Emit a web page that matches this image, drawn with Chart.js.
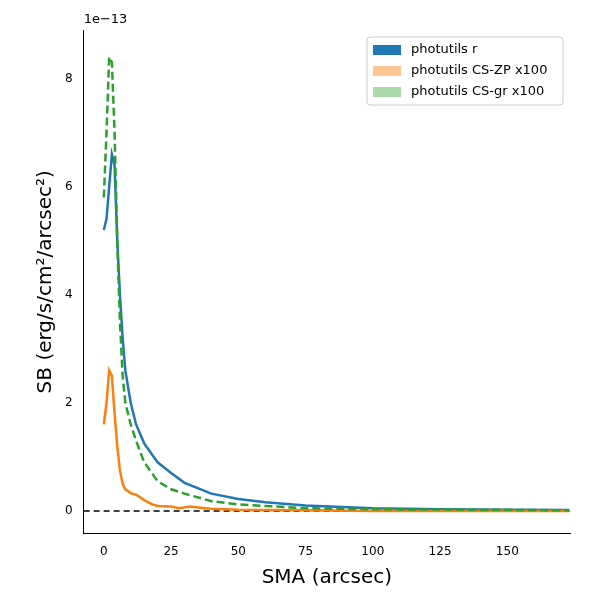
<!DOCTYPE html>
<html>
<head>
<meta charset="utf-8">
<script src="https://cdn.jsdelivr.net/npm/chart.js@4"></script>
<style>
  body { margin: 0; background: #fff; }
</style>
</head>
<body>
<canvas id="c" width="600" height="600"></canvas>
<script>
// values in units of 1e-13
const sma_r = [0, 1, 2, 3, 4, 5, 6, 7, 8, 10, 12, 15, 20, 25, 30, 40, 50, 60, 75, 100, 125, 150, 173];
const sb_r = [5.2, 5.4, 6.0, 6.6, 6.4, 5.0, 4.0, 3.2, 2.6, 2.0, 1.6, 1.25, 0.9, 0.7, 0.52, 0.32, 0.22, 0.16, 0.1, 0.05, 0.03, 0.02, 0.015];
const sma_gr = [0, 1, 2, 3, 4, 5, 6, 7, 8, 10, 12, 15, 20, 25, 30, 40, 50, 75, 100, 150, 173];
const sb_gr = [5.8, 7.0, 8.4, 8.3, 7.0, 5.0, 3.5, 2.5, 2.0, 1.6, 1.3, 0.9, 0.55, 0.4, 0.32, 0.18, 0.12, 0.05, 0.03, 0.02, 0.01];
const sma_zp = [0, 1, 2, 3, 4, 5, 6, 7, 8, 10, 12, 15, 18, 20, 25, 28, 32, 36, 40, 50, 75, 100, 173];
const sb_zp = [1.6, 2.0, 2.6, 2.5, 1.8, 1.2, 0.75, 0.5, 0.4, 0.33, 0.3, 0.2, 0.12, 0.09, 0.08, 0.05, 0.08, 0.06, 0.04, 0.02, 0.01, 0, 0];
const xTicks = [0, 25, 50, 75, 100, 125, 150];
const yTicks = [0, 2, 4, 6, 8];

const pts = (xs, ys) => xs.map((x, i) => ({ x: x, y: ys[i] }));

// "1e-13" offset label plus a matplotlib style legend box
const extras = {
  id: 'extras',
  afterDraw(chart) {
    const ctx = chart.ctx, a = chart.chartArea;
    ctx.save();
    ctx.font = '13px "DejaVu Sans"';
    ctx.fillStyle = '#000';
    ctx.textBaseline = 'bottom';
    ctx.fillText('1e\u221213', a.left, a.top - 4);

    const items = chart.data.datasets.filter(d => d.label !== 'zero');
    const w = 196, h = 68, x0 = a.right - w - 7, y0 = a.top + 7;
    ctx.fillStyle = 'rgba(255,255,255,0.8)';
    ctx.strokeStyle = '#ccc';
    ctx.lineWidth = 1;
    ctx.beginPath();
    ctx.roundRect(x0, y0, w, h, 3);
    ctx.fill();
    ctx.stroke();
    ctx.textBaseline = 'middle';
    items.forEach((d, i) => {
      const y = y0 + 13 + i * 21;
      ctx.fillStyle = d.backgroundColor;
      ctx.fillRect(x0 + 6, y - 5, 28, 10);
      ctx.fillStyle = '#000';
      ctx.fillText(d.label, x0 + 44, y);
    });
    ctx.restore();
  }
};

new Chart(document.getElementById('c'), {
  type: 'scatter',
  data: {
    datasets: [
      { label: 'photutils r', data: pts(sma_r, sb_r), showLine: true, borderColor: '#1f77b4', backgroundColor: '#1f77b4', borderWidth: 2.5, pointRadius: 0, order: 3 },
      { label: 'photutils CS-ZP x100', data: pts(sma_zp, sb_zp), showLine: true, borderColor: '#ff7f0e', backgroundColor: 'rgba(255,127,14,0.45)', borderWidth: 2.5, pointRadius: 0, order: 2 },
      { label: 'photutils CS-gr x100', data: pts(sma_gr, sb_gr), showLine: true, borderColor: '#2ca02c', backgroundColor: 'rgba(44,160,44,0.4)', borderWidth: 2.5, borderDash: [8, 4], pointRadius: 0, order: 1 },
      { label: 'zero', data: [{ x: -7.5, y: 0 }, { x: 173.3, y: 0 }], showLine: true, borderColor: '#000', borderWidth: 1.5, borderDash: [6, 4], pointRadius: 0, order: 4 }
    ]
  },
  options: {
    responsive: false,
    animation: false,
    layout: { padding: { top: 30, right: 30, left: 30, bottom: 6 } },
    plugins: {
      legend: { display: false },
      tooltip: { enabled: false }
    },
    scales: {
      x: {
        type: 'linear', min: -7.5, max: 173.3,
        afterBuildTicks: s => { s.ticks = xTicks.map(v => ({ value: v })); },
        grid: { display: false },
        border: { color: '#000' },
        ticks: { color: '#000', font: { size: 12, family: 'DejaVu Sans' } },
        title: { display: true, text: 'SMA (arcsec)', color: '#000', font: { size: 20, family: 'DejaVu Sans' } }
      },
      y: {
        type: 'linear', min: -0.42, max: 8.9,
        afterBuildTicks: s => { s.ticks = yTicks.map(v => ({ value: v })); },
        grid: { display: false },
        border: { color: '#000' },
        ticks: { color: '#000', font: { size: 12, family: 'DejaVu Sans' } },
        title: { display: true, text: 'SB (erg/s/cm\u00b2/arcsec\u00b2)', color: '#000', font: { size: 20, family: 'DejaVu Sans' } }
      }
    }
  },
  plugins: [extras]
});
</script>
</body>
</html>
